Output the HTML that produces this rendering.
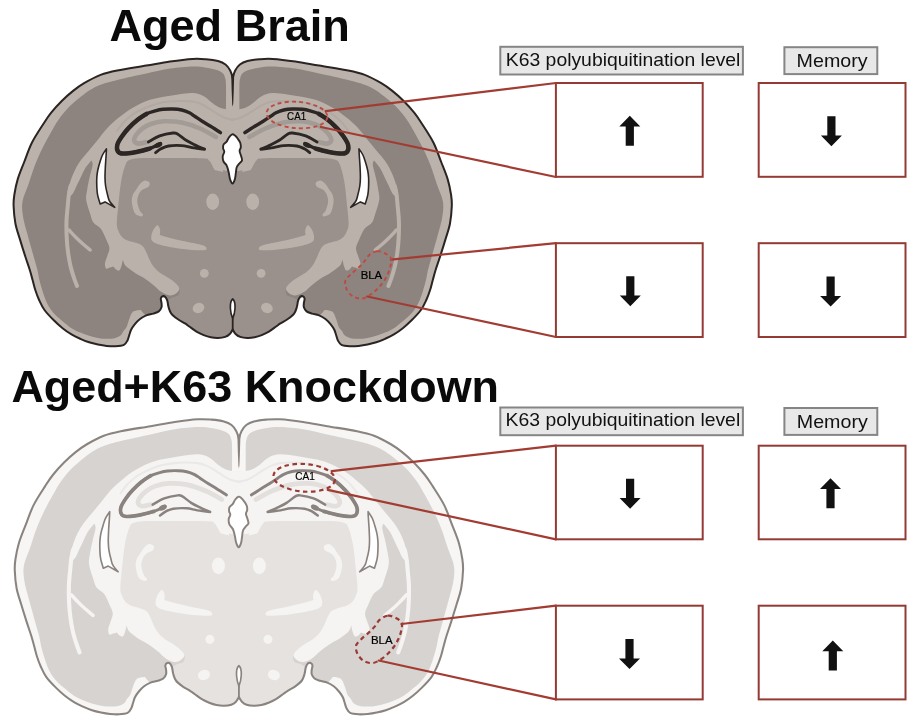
<!DOCTYPE html>
<html><head><meta charset="utf-8"><title>Aged Brain K63</title>
<style>
html,body{margin:0;padding:0;background:#fff;}
body{width:907px;height:727px;overflow:hidden;position:relative;font-family:"Liberation Sans",sans-serif;}
svg{position:absolute;left:0;top:0;}
.b1{--rim:#bbb3ab;--ctx:#8d847f;--wm:#bab2aa;--core:#9a908c;--hm:#a39b96;--al:#b1a9a2;--ln:#2c2624;--ol:#2a2422;--caw:3.4px;--caw2:4.5px;--dgw:2.9px;}
.b2{--rim:#f7f6f5;--ctx:#d7d3d0;--wm:#f5f4f2;--core:#e5e2df;--hm:#e2dfdc;--al:#ebe9e7;--ln:#8a827e;--ol:#8a8480;--caw:2.8px;--caw2:3.6px;--dgw:2.4px;}
</style></head>
<body>
<svg width="907" height="727" viewBox="0 0 907 727">
<defs>
<g id="half">
  <path fill="none" stroke="var(--al)" stroke-width="2" stroke-linecap="round" d="M117,131 C118.17,129.5 121.17,124.92 124,122 C126.83,119.08 130.28,115.92 134,113.5 C137.72,111.08 142.3,109.17 146.3,107.5 C150.3,105.83 154.13,104.48 158,103.5 C161.87,102.52 165.67,102.02 169.5,101.6 C173.33,101.18 177.15,101 181,101 C184.85,101 189.27,101.1 192.6,101.6 C195.93,102.1 198.43,102.97 201,104 C203.57,105.03 205.5,106.3 208,107.8 C210.5,109.3 213.33,111.38 216,113 C218.67,114.62 221,116.33 224,117.5 C227,118.67 232.33,119.58 234,120"/>
  <path fill="none" stroke="var(--wm)" stroke-width="4" stroke-linecap="round" d="M70.5,186 C70.22,187.5 69.25,191.77 68.8,195 C68.35,198.23 68.18,201.07 67.8,205.4 C67.42,209.73 66.68,215.67 66.5,221 C66.32,226.33 66.45,232.23 66.7,237.4 C66.95,242.57 67.37,247.23 68,252 C68.63,256.77 69.5,261.67 70.5,266 C71.5,270.33 72.92,274.67 74,278 C75.08,281.33 76.5,284.67 77,286"/>
  <path fill="none" stroke="var(--wm)" stroke-width="3.4" stroke-linecap="round" d="M69,230 C70.17,231.25 73.67,235.17 76,237.5 C78.33,239.83 80.63,241.92 83,244 C85.37,246.08 89,249 90.2,250"/>
  <path fill="none" stroke="var(--hm)" stroke-width="4.6" stroke-linecap="round" stroke-linejoin="round" d="M216,137 C213.33,135.58 205.72,130.9 200,128.5 C194.28,126.1 187.68,123.8 181.7,122.6 C175.72,121.4 169.23,121.07 164.1,121.3 C158.97,121.53 154.58,122.75 150.9,124 C147.22,125.25 144.52,126.9 142,128.8 C139.48,130.7 137.1,133.4 135.8,135.4 C134.5,137.4 133.75,139.43 134.2,140.8 C134.65,142.17 136.45,143.4 138.5,143.6 C140.55,143.8 145.17,142.27 146.5,142"/>
  <path fill="none" stroke="var(--ln)" stroke-width="var(--caw)" stroke-linecap="round" stroke-linejoin="round" d="M220.5,132.6 C218.92,131.58 213.98,128.35 211,126.5 C208.02,124.65 205.27,123.17 202.6,121.5 C199.93,119.83 197.2,117.95 195,116.5 C192.8,115.05 191.62,113.88 189.4,112.8 C187.18,111.72 184.45,110.63 181.7,110 C178.95,109.37 176.02,109.12 172.9,109 C169.78,108.88 165.93,109 163,109.3 C160.07,109.6 158.05,110.05 155.3,110.8 C152.55,111.55 149.45,112.3 146.5,113.8 C143.55,115.3 140.55,117.45 137.6,119.8 C134.65,122.15 131.3,125.28 128.8,127.9 C126.3,130.52 124.5,132.73 122.6,135.5 C120.7,138.27 118.17,141.83 117.4,144.5 C116.63,147.17 117.07,149.98 118,151.5 C118.93,153.02 119.92,153.52 123,153.6 C126.08,153.68 132.05,152.83 136.5,152 C140.95,151.17 145.7,150.02 149.7,148.6 C153.7,147.18 158.7,144.35 160.5,143.5"/>
  <path fill="none" stroke="var(--ln)" stroke-width="var(--caw2)" stroke-linecap="round" stroke-linejoin="round" d="M146.5,113.8 C145.02,114.8 140.55,117.45 137.6,119.8 C134.65,122.15 131.3,125.28 128.8,127.9 C126.3,130.52 124.5,132.73 122.6,135.5 C120.7,138.27 118.17,141.83 117.4,144.5 C116.63,147.17 117.07,149.98 118,151.5 C118.93,153.02 119.92,153.52 123,153.6 C126.08,153.68 132.05,152.83 136.5,152 C140.95,151.17 147.5,149.17 149.7,148.6"/>
  <ellipse fill="var(--ln)" cx="158.3" cy="145" rx="4.2" ry="2.5" transform="rotate(-25 158.3 145)"/>
  <path fill="none" stroke="var(--ln)" stroke-width="var(--dgw)" stroke-linecap="round" stroke-linejoin="round" d="M148.4,142 C150.28,140.98 155.62,137.4 159.7,135.9 C163.78,134.4 169.93,133.32 172.9,133 C175.87,132.68 175.3,132.78 177.5,134 C179.7,135.22 183.35,138.55 186.1,140.3 C188.85,142.05 190.92,143.02 194,144.5 C197.08,145.98 204.6,149.2 204.6,149.2 C204.6,149.2 195.82,148.2 192,147.6 C188.18,147 185.62,145.87 181.7,145.6 C177.78,145.33 171.95,145.47 168.5,146 C165.05,146.53 163.15,147.7 161,148.8 C158.85,149.9 156.5,151.97 155.6,152.6"/>
  <path fill="#fff" stroke="var(--ln)" stroke-width="1.6" stroke-linejoin="round" d="M106.4,148.9 C106.4,148.9 103.53,152.93 102.5,155 C101.47,157.07 100.98,158.8 100.2,161.3 C99.42,163.8 98.37,167.25 97.8,170 C97.23,172.75 96.97,175.13 96.8,177.8 C96.63,180.47 96.68,183.25 96.8,186 C96.92,188.75 96.93,191.3 97.5,194.3 C98.07,197.3 100.2,204 100.2,204 C100.2,204 105,201.9 105,201.9 C105,201.9 114.7,207.4 114.7,207.4 C114.7,207.4 110.68,203.07 109.5,201 C108.32,198.93 108.25,197.5 107.6,195 C106.95,192.5 106.03,188.87 105.6,186 C105.17,183.13 105.05,180.8 105,177.8 C104.95,174.8 105.18,170.75 105.3,168 C105.42,165.25 105.55,163.63 105.7,161.3 C105.85,158.97 106.08,156.07 106.2,154 C106.32,151.93 106.4,148.9 106.4,148.9 Z"/>
  <path fill="var(--wm)" d="M144.8,180.5 C146.38,180.25 148.88,181.47 149.5,182.5 C150.12,183.53 149.7,185.48 148.5,186.7 C147.3,187.92 143.95,188.47 142.3,189.8 C140.65,191.13 139.43,192.65 138.6,194.7 C137.77,196.75 137.1,199.42 137.3,202.1 C137.5,204.78 138.87,208.73 139.8,210.8 C140.73,212.87 142.7,213.57 142.9,214.5 C143.1,215.43 142.33,216.6 141,216.4 C139.67,216.2 136.43,215.68 134.9,213.3 C133.37,210.92 132.12,205.23 131.8,202.1 C131.48,198.97 132.28,196.55 133,194.5 C133.72,192.45 134.93,191.55 136.1,189.8 C137.27,188.05 138.55,185.55 140,184 C141.45,182.45 143.22,180.75 144.8,180.5 Z"/>
  <path fill="var(--wm)" d="M157.3,225 C159.8,226.5 160.8,230.5 159.8,235 C170,238.5 185,241.5 200,244.5 C205,245.5 208,247.5 206,250 C195,251 180,249 165,246 C158,244.5 153,243 151.5,240 C150.5,235.5 152.8,228.5 157.3,225 Z"/>
  <ellipse fill="var(--wm)" cx="212.7" cy="201.7" rx="6.4" ry="8.2"/>
  <circle fill="var(--wm)" cx="204.3" cy="273.3" r="4.4"/>
  <ellipse fill="var(--wm)" cx="198.5" cy="308" rx="6" ry="5" transform="rotate(-20 198.5 308)"/>
  <path fill="var(--wm)" d="M207,150 L223,150 L223,172 L214.5,170 Z"/>
</g>
<g id="brain">
  <path fill="var(--rim)" d="M232.7,78 C232.7,78 231.4,72.75 230.2,70.5 C229,68.25 227.53,66.08 225.5,64.5 C223.47,62.92 221.25,61.88 218,61 C214.75,60.12 210.23,59.55 206,59.2 C201.77,58.85 198.6,58.52 192.6,58.9 C186.6,59.28 177.72,60.38 170,61.5 C162.28,62.62 155.1,64.1 146.3,65.6 C137.5,67.1 124.82,68.95 117.2,70.5 C109.58,72.05 106.12,72.78 100.6,74.9 C95.08,77.02 88.68,80.53 84.1,83.2 C79.52,85.87 76.78,87.97 73.1,90.9 C69.42,93.83 65.68,97.13 62,100.8 C58.32,104.47 54.12,109.03 51,112.9 C47.88,116.77 46.47,119.07 43.3,124 C40.13,128.93 35.18,136.17 32,142.5 C28.82,148.83 26.6,155.82 24.2,162 C21.8,168.18 19.25,174.1 17.6,179.6 C15.95,185.1 14.97,190.6 14.3,195 C13.63,199.4 13.42,201.25 13.6,206 C13.78,210.75 14.37,218.02 15.4,223.5 C16.43,228.98 18.15,233.4 19.8,238.9 C21.45,244.4 23.63,251.32 25.3,256.5 C26.97,261.68 28.58,266.08 29.8,270 C31.02,273.92 31.68,276.67 32.6,280 C33.52,283.33 34.22,286.67 35.3,290 C36.38,293.33 37.57,296.67 39.1,300 C40.63,303.33 42.05,306.62 44.5,310 C46.95,313.38 50.78,317.27 53.8,320.3 C56.82,323.33 59.65,325.85 62.6,328.2 C65.55,330.55 68.55,332.63 71.5,334.4 C74.45,336.17 77.37,337.48 80.3,338.8 C83.23,340.12 86.17,341.35 89.1,342.3 C92.03,343.25 94.97,343.9 97.9,344.5 C100.83,345.1 103.77,345.6 106.7,345.9 C109.63,346.2 112.63,346.47 115.5,346.3 C118.37,346.13 121.9,345.88 123.9,344.9 C125.9,343.92 126.6,342.05 127.5,340.4 C128.4,338.75 128.7,336.78 129.3,335 C129.9,333.22 130.2,331.48 131.1,329.7 C132,327.92 133.22,326.08 134.7,324.3 C136.18,322.52 138.07,320.48 140,319 C141.93,317.52 144.07,316.3 146.3,315.4 C148.53,314.5 151.32,314.27 153.4,313.6 C155.48,312.93 157.45,312.45 158.8,311.4 C160.15,310.35 161.05,308.72 161.5,307.3 C161.95,305.88 161.62,304.35 161.5,302.9 C161.38,301.45 160.62,299.7 160.8,298.6 C160.98,297.5 161.85,296.58 162.6,296.3 C163.35,296.02 164.52,296.18 165.3,296.9 C166.08,297.62 166.75,298.87 167.3,300.6 C167.85,302.33 167.93,305.13 168.6,307.3 C169.27,309.47 169.8,311.65 171.3,313.6 C172.8,315.55 175.32,317.37 177.6,319 C179.88,320.63 183.05,322.15 185,323.4 C186.95,324.65 187.38,325.13 189.3,326.5 C191.22,327.87 194.1,330.17 196.5,331.6 C198.9,333.03 201.32,334.15 203.7,335.1 C206.08,336.05 208.42,336.82 210.8,337.3 C213.18,337.78 215.6,338.07 218,338 C220.4,337.93 223.23,337.57 225.2,336.9 C227.17,336.23 228.55,335.23 229.8,334 C231.05,332.77 232.7,329.5 232.7,329.5 C232.7,329.5 234.35,332.77 235.6,334 C236.85,335.23 238.23,336.23 240.2,336.9 C242.17,337.57 245,337.93 247.4,338 C249.8,338.07 252.22,337.78 254.6,337.3 C256.98,336.82 259.32,336.05 261.7,335.1 C264.08,334.15 266.5,333.03 268.9,331.6 C271.3,330.17 274.18,327.87 276.1,326.5 C278.02,325.13 278.45,324.65 280.4,323.4 C282.35,322.15 285.52,320.63 287.8,319 C290.08,317.37 292.6,315.55 294.1,313.6 C295.6,311.65 296.13,309.47 296.8,307.3 C297.47,305.13 297.55,302.33 298.1,300.6 C298.65,298.87 299.32,297.62 300.1,296.9 C300.88,296.18 302.05,296.02 302.8,296.3 C303.55,296.58 304.42,297.5 304.6,298.6 C304.78,299.7 304.02,301.45 303.9,302.9 C303.78,304.35 303.45,305.88 303.9,307.3 C304.35,308.72 305.25,310.35 306.6,311.4 C307.95,312.45 309.92,312.93 312,313.6 C314.08,314.27 316.87,314.5 319.1,315.4 C321.33,316.3 323.47,317.52 325.4,319 C327.33,320.48 329.22,322.52 330.7,324.3 C332.18,326.08 333.4,327.92 334.3,329.7 C335.2,331.48 335.5,333.22 336.1,335 C336.7,336.78 337,338.75 337.9,340.4 C338.8,342.05 339.5,343.92 341.5,344.9 C343.5,345.88 347.03,346.13 349.9,346.3 C352.77,346.47 355.77,346.2 358.7,345.9 C361.63,345.6 364.57,345.1 367.5,344.5 C370.43,343.9 373.37,343.25 376.3,342.3 C379.23,341.35 382.17,340.12 385.1,338.8 C388.03,337.48 390.95,336.17 393.9,334.4 C396.85,332.63 399.85,330.55 402.8,328.2 C405.75,325.85 408.58,323.33 411.6,320.3 C414.62,317.27 418.45,313.38 420.9,310 C423.35,306.62 424.77,303.33 426.3,300 C427.83,296.67 429.02,293.33 430.1,290 C431.18,286.67 431.88,283.33 432.8,280 C433.72,276.67 434.38,273.92 435.6,270 C436.82,266.08 438.43,261.68 440.1,256.5 C441.77,251.32 443.95,244.4 445.6,238.9 C447.25,233.4 448.97,228.98 450,223.5 C451.03,218.02 451.62,210.75 451.8,206 C451.98,201.25 451.77,199.4 451.1,195 C450.43,190.6 449.45,185.1 447.8,179.6 C446.15,174.1 443.6,168.18 441.2,162 C438.8,155.82 436.58,148.83 433.4,142.5 C430.22,136.17 425.27,128.93 422.1,124 C418.93,119.07 417.52,116.77 414.4,112.9 C411.28,109.03 407.08,104.47 403.4,100.8 C399.72,97.13 395.98,93.83 392.3,90.9 C388.62,87.97 385.88,85.87 381.3,83.2 C376.72,80.53 370.32,77.02 364.8,74.9 C359.28,72.78 355.82,72.05 348.2,70.5 C340.58,68.95 327.9,67.1 319.1,65.6 C310.3,64.1 303.12,62.62 295.4,61.5 C287.68,60.38 278.8,59.28 272.8,58.9 C266.8,58.52 263.63,58.85 259.4,59.2 C255.17,59.55 250.65,60.12 247.4,61 C244.15,61.88 241.93,62.92 239.9,64.5 C237.87,66.08 236.4,68.25 235.2,70.5 C234,72.75 232.7,78 232.7,78 Z"/>
  <path fill="var(--ctx)" d="M232.7,110 C232.7,110 226,110 226,110 C226,110 226.12,91.25 226,86 C225.88,80.75 225.83,80.62 225.3,78.5 C224.77,76.38 224.1,74.68 222.8,73.3 C221.5,71.92 220.47,71.18 217.5,70.2 C214.53,69.22 209.15,68.02 205,67.4 C200.85,66.78 198.43,66.3 192.6,66.5 C186.77,66.7 177.72,67.42 170,68.6 C162.28,69.78 155.1,71.7 146.3,73.6 C137.5,75.5 124.82,78.13 117.2,80 C109.58,81.87 105.2,83.08 100.6,84.8 C96,86.52 93.27,88 89.6,90.3 C85.93,92.6 82.27,95.57 78.6,98.6 C74.93,101.63 70.92,105.02 67.6,108.5 C64.28,111.98 61.1,116.18 58.7,119.5 C56.3,122.82 55.82,123.82 53.2,128.4 C50.58,132.98 46.03,140.9 43,147 C39.97,153.1 37.4,158.83 35,165 C32.6,171.17 30.68,177.92 28.6,184 C26.52,190.08 23.42,196.02 22.5,201.5 C21.58,206.98 22.27,211.4 23.1,216.9 C23.93,222.4 25.85,228.27 27.5,234.5 C29.15,240.73 31.35,248.38 33,254.3 C34.65,260.22 36.33,265.72 37.4,270 C38.47,274.28 38.6,276.67 39.4,280 C40.2,283.33 41.17,286.67 42.2,290 C43.23,293.33 44.23,296.83 45.6,300 C46.97,303.17 48.67,306.42 50.4,309 C52.13,311.58 53.97,313.47 56,315.5 C58.03,317.53 60.02,319.08 62.6,321.2 C65.18,323.32 68.55,326.3 71.5,328.2 C74.45,330.1 77.37,331.35 80.3,332.6 C83.23,333.85 86.17,334.82 89.1,335.7 C92.03,336.58 94.97,337.38 97.9,337.9 C100.83,338.42 103.77,338.8 106.7,338.8 C109.63,338.8 113.15,338.48 115.5,337.9 C117.85,337.32 119.47,336.45 120.8,335.3 C122.13,334.15 122.53,332.38 123.5,331 C124.47,329.62 125.63,329 126.6,327 C127.57,325 128.25,321.53 129.3,319 C130.35,316.47 130.97,313.3 132.9,311.8 C134.83,310.3 140.9,310 140.9,310 C140.9,310 144.22,314.8 146.3,315.4 C148.38,316 151.32,314.27 153.4,313.6 C155.48,312.93 157.45,312.45 158.8,311.4 C160.15,310.35 161.05,308.72 161.5,307.3 C161.95,305.88 161.62,304.35 161.5,302.9 C161.38,301.45 160.62,299.7 160.8,298.6 C160.98,297.5 161.85,296.58 162.6,296.3 C163.35,296.02 164.52,296.18 165.3,296.9 C166.08,297.62 166.75,298.87 167.3,300.6 C167.85,302.33 167.93,305.13 168.6,307.3 C169.27,309.47 169.8,311.65 171.3,313.6 C172.8,315.55 175.32,317.37 177.6,319 C179.88,320.63 183.05,322.15 185,323.4 C186.95,324.65 187.38,325.13 189.3,326.5 C191.22,327.87 194.1,330.17 196.5,331.6 C198.9,333.03 201.32,334.15 203.7,335.1 C206.08,336.05 208.42,336.82 210.8,337.3 C213.18,337.78 215.6,338.07 218,338 C220.4,337.93 223.23,337.57 225.2,336.9 C227.17,336.23 228.55,335.23 229.8,334 C231.05,332.77 232.7,329.5 232.7,329.5 C232.7,329.5 234.35,332.77 235.6,334 C236.85,335.23 238.23,336.23 240.2,336.9 C242.17,337.57 245,337.93 247.4,338 C249.8,338.07 252.22,337.78 254.6,337.3 C256.98,336.82 259.32,336.05 261.7,335.1 C264.08,334.15 266.5,333.03 268.9,331.6 C271.3,330.17 274.18,327.87 276.1,326.5 C278.02,325.13 278.45,324.65 280.4,323.4 C282.35,322.15 285.52,320.63 287.8,319 C290.08,317.37 292.6,315.55 294.1,313.6 C295.6,311.65 296.13,309.47 296.8,307.3 C297.47,305.13 297.55,302.33 298.1,300.6 C298.65,298.87 299.32,297.62 300.1,296.9 C300.88,296.18 302.05,296.02 302.8,296.3 C303.55,296.58 304.42,297.5 304.6,298.6 C304.78,299.7 304.02,301.45 303.9,302.9 C303.78,304.35 303.45,305.88 303.9,307.3 C304.35,308.72 305.25,310.35 306.6,311.4 C307.95,312.45 309.92,312.93 312,313.6 C314.08,314.27 317.02,316 319.1,315.4 C321.18,314.8 324.5,310 324.5,310 C324.5,310 330.57,310.3 332.5,311.8 C334.43,313.3 335.05,316.47 336.1,319 C337.15,321.53 337.83,325 338.8,327 C339.77,329 340.93,329.62 341.9,331 C342.87,332.38 343.27,334.15 344.6,335.3 C345.93,336.45 347.55,337.32 349.9,337.9 C352.25,338.48 355.77,338.8 358.7,338.8 C361.63,338.8 364.57,338.42 367.5,337.9 C370.43,337.38 373.37,336.58 376.3,335.7 C379.23,334.82 382.17,333.85 385.1,332.6 C388.03,331.35 390.95,330.1 393.9,328.2 C396.85,326.3 400.22,323.32 402.8,321.2 C405.38,319.08 407.37,317.53 409.4,315.5 C411.43,313.47 413.27,311.58 415,309 C416.73,306.42 418.43,303.17 419.8,300 C421.17,296.83 422.17,293.33 423.2,290 C424.23,286.67 425.2,283.33 426,280 C426.8,276.67 426.93,274.28 428,270 C429.07,265.72 430.75,260.22 432.4,254.3 C434.05,248.38 436.25,240.73 437.9,234.5 C439.55,228.27 441.47,222.4 442.3,216.9 C443.13,211.4 443.82,206.98 442.9,201.5 C441.98,196.02 438.88,190.08 436.8,184 C434.72,177.92 432.8,171.17 430.4,165 C428,158.83 425.43,153.1 422.4,147 C419.37,140.9 414.82,132.98 412.2,128.4 C409.58,123.82 409.1,122.82 406.7,119.5 C404.3,116.18 401.12,111.98 397.8,108.5 C394.48,105.02 390.47,101.63 386.8,98.6 C383.13,95.57 379.47,92.6 375.8,90.3 C372.13,88 369.4,86.52 364.8,84.8 C360.2,83.08 355.82,81.87 348.2,80 C340.58,78.13 327.9,75.5 319.1,73.6 C310.3,71.7 303.12,69.78 295.4,68.6 C287.68,67.42 278.63,66.7 272.8,66.5 C266.97,66.3 264.55,66.78 260.4,67.4 C256.25,68.02 250.87,69.22 247.9,70.2 C244.93,71.18 243.9,71.92 242.6,73.3 C241.3,74.68 240.63,76.38 240.1,78.5 C239.57,80.62 239.52,80.75 239.4,86 C239.28,91.25 239.4,110 239.4,110 C239.4,110 232.7,110 232.7,110 Z"/>
  <path fill="var(--wm)" d="M232.7,109.5 C232.7,109.5 227.38,109.42 225,109 C222.62,108.58 220.62,108.07 218.4,107 C216.18,105.93 213.92,104.27 211.7,102.6 C209.48,100.93 207.48,98.48 205.1,97 C202.72,95.52 200.15,94.33 197.4,93.7 C194.65,93.07 192.83,92.92 188.6,93.2 C184.37,93.48 178.43,94.3 172,95.4 C165.57,96.5 156.6,97.72 150,99.8 C143.4,101.88 137.58,104.95 132.4,107.9 C127.22,110.85 122.92,114.3 118.9,117.5 C114.88,120.7 111.67,123.57 108.3,127.1 C104.93,130.63 102.05,134.63 98.7,138.7 C95.35,142.77 91.22,147.85 88.2,151.5 C85.18,155.15 82.72,157.68 80.6,160.6 C78.48,163.52 77.02,166.1 75.5,169 C73.98,171.9 72.67,174.83 71.5,178 C70.33,181.17 69.25,184.83 68.5,188 C67.75,191.17 67,197 67,197 C67,197 69.42,196.75 70.5,196 C71.58,195.25 72.5,194.17 73.5,192.5 C74.5,190.83 75.5,188.08 76.5,186 C77.5,183.92 78.12,182.85 79.5,180 C80.88,177.15 82.82,172.13 84.8,168.9 C86.78,165.67 91.4,160.6 91.4,160.6 C91.4,160.6 92.88,162.25 92.6,165 C92.32,167.75 90.6,173.02 89.7,177.1 C88.8,181.18 87.78,185.68 87.2,189.5 C86.62,193.32 85.7,195.93 86.2,200 C86.7,204.07 89,210.17 90.2,213.9 C91.4,217.63 91.62,219.92 93.4,222.4 C95.18,224.88 98.77,225.95 100.9,228.8 C103.03,231.65 104.78,236.3 106.2,239.5 C107.62,242.7 109.22,245.25 109.4,248 C109.58,250.75 108.03,253.5 107.3,256 C106.57,258.5 105.22,260.92 105,263 C104.78,265.08 105.17,267.75 106,268.5 C106.83,269.25 108.75,267.83 110,267.5 C111.25,267.17 113.5,266.5 113.5,266.5 C113.5,266.5 115.03,268.95 116,269.6 C116.97,270.25 118.4,270.95 119.3,270.4 C120.2,269.85 120.8,268.1 121.4,266.3 C122,264.5 122.9,259.6 122.9,259.6 C122.9,259.6 123.65,262.95 124.6,264.4 C125.55,265.85 126.73,266.78 128.6,268.3 C130.47,269.82 133.05,271.77 135.8,273.5 C138.55,275.23 142.18,276.8 145.1,278.7 C148.02,280.6 150.55,282.67 153.3,284.9 C156.05,287.13 158.83,290.35 161.6,292.1 C164.37,293.85 167.5,295.17 169.9,295.4 C172.3,295.63 174.4,294.65 176,293.5 C177.6,292.35 179.33,290.42 179.5,288.5 C179.67,286.58 177,282 177,282 C177,282 232.7,250 232.7,250 C232.7,250 288.4,282 288.4,282 C288.4,282 285.73,286.58 285.9,288.5 C286.07,290.42 287.8,292.35 289.4,293.5 C291,294.65 293.1,295.63 295.5,295.4 C297.9,295.17 301.03,293.85 303.8,292.1 C306.57,290.35 309.35,287.13 312.1,284.9 C314.85,282.67 317.38,280.6 320.3,278.7 C323.22,276.8 326.85,275.23 329.6,273.5 C332.35,271.77 334.93,269.82 336.8,268.3 C338.67,266.78 339.85,265.85 340.8,264.4 C341.75,262.95 342.5,259.6 342.5,259.6 C342.5,259.6 343.4,264.5 344,266.3 C344.6,268.1 345.2,269.85 346.1,270.4 C347,270.95 348.43,270.25 349.4,269.6 C350.37,268.95 351.9,266.5 351.9,266.5 C351.9,266.5 354.15,267.17 355.4,267.5 C356.65,267.83 358.57,269.25 359.4,268.5 C360.23,267.75 360.62,265.08 360.4,263 C360.18,260.92 358.83,258.5 358.1,256 C357.37,253.5 355.82,250.75 356,248 C356.18,245.25 357.78,242.7 359.2,239.5 C360.62,236.3 362.37,231.65 364.5,228.8 C366.63,225.95 370.22,224.88 372,222.4 C373.78,219.92 374,217.63 375.2,213.9 C376.4,210.17 378.7,204.07 379.2,200 C379.7,195.93 378.78,193.32 378.2,189.5 C377.62,185.68 376.6,181.18 375.7,177.1 C374.8,173.02 373.08,167.75 372.8,165 C372.52,162.25 374,160.6 374,160.6 C374,160.6 378.62,165.67 380.6,168.9 C382.58,172.13 384.52,177.15 385.9,180 C387.28,182.85 387.9,183.92 388.9,186 C389.9,188.08 390.9,190.83 391.9,192.5 C392.9,194.17 393.82,195.25 394.9,196 C395.98,196.75 398.4,197 398.4,197 C398.4,197 397.65,191.17 396.9,188 C396.15,184.83 395.07,181.17 393.9,178 C392.73,174.83 391.42,171.9 389.9,169 C388.38,166.1 386.92,163.52 384.8,160.6 C382.68,157.68 380.22,155.15 377.2,151.5 C374.18,147.85 370.05,142.77 366.7,138.7 C363.35,134.63 360.47,130.63 357.1,127.1 C353.73,123.57 350.52,120.7 346.5,117.5 C342.48,114.3 338.18,110.85 333,107.9 C327.82,104.95 322,101.88 315.4,99.8 C308.8,97.72 299.83,96.5 293.4,95.4 C286.97,94.3 281.03,93.48 276.8,93.2 C272.57,92.92 270.75,93.07 268,93.7 C265.25,94.33 262.68,95.52 260.3,97 C257.92,98.48 255.92,100.93 253.7,102.6 C251.48,104.27 249.22,105.93 247,107 C244.78,108.07 242.78,108.58 240.4,109 C238.02,109.42 232.7,109.5 232.7,109.5 Z"/>
  <path fill="var(--core)" d="M232.7,172 C232.7,172 222,170 222,170 C222,170 213.5,168 213.5,168 C213.5,168 210.92,162.13 209,160.5 C207.08,158.87 210.17,158.62 202,158.2 C193.83,157.78 170.33,158 160,158 C149.67,158 144.83,157.95 140,158.2 C135.17,158.45 133.33,158.62 131,159.5 C128.67,160.38 127.63,159.92 126,163.5 C124.37,167.08 122.52,173.63 121.2,181 C119.88,188.37 118.83,200.53 118.1,207.7 C117.37,214.87 116.73,220.12 116.8,224 C116.87,227.88 117.63,228.83 118.5,231 C119.37,233.17 120.5,235.42 122,237 C123.5,238.58 125.03,239.48 127.5,240.5 C129.97,241.52 134.3,242.18 136.8,243.1 C139.3,244.02 140.95,244.55 142.5,246 C144.05,247.45 144.98,249.62 146.1,251.8 C147.22,253.98 148,256.68 149.2,259.1 C150.4,261.52 151.58,264.07 153.3,266.3 C155.02,268.53 157.08,270.62 159.5,272.5 C161.92,274.38 165.22,275.88 167.8,277.6 C170.38,279.32 173.05,280.98 175,282.8 C176.95,284.62 178.92,286.47 179.5,288.5 C180.08,290.53 179.75,293.5 178.5,295 C177.25,296.5 173.87,296.57 172,297.5 C170.13,298.43 167.3,300.6 167.3,300.6 C167.3,300.6 167.93,305.13 168.6,307.3 C169.27,309.47 169.8,311.65 171.3,313.6 C172.8,315.55 175.32,317.37 177.6,319 C179.88,320.63 183.05,322.15 185,323.4 C186.95,324.65 187.38,325.13 189.3,326.5 C191.22,327.87 194.1,330.17 196.5,331.6 C198.9,333.03 201.32,334.15 203.7,335.1 C206.08,336.05 208.42,336.82 210.8,337.3 C213.18,337.78 215.6,338.07 218,338 C220.4,337.93 223.23,337.57 225.2,336.9 C227.17,336.23 228.55,335.23 229.8,334 C231.05,332.77 232.7,329.5 232.7,329.5 C232.7,329.5 234.35,332.77 235.6,334 C236.85,335.23 238.23,336.23 240.2,336.9 C242.17,337.57 245,337.93 247.4,338 C249.8,338.07 252.22,337.78 254.6,337.3 C256.98,336.82 259.32,336.05 261.7,335.1 C264.08,334.15 266.5,333.03 268.9,331.6 C271.3,330.17 274.18,327.87 276.1,326.5 C278.02,325.13 278.45,324.65 280.4,323.4 C282.35,322.15 285.52,320.63 287.8,319 C290.08,317.37 292.6,315.55 294.1,313.6 C295.6,311.65 296.13,309.47 296.8,307.3 C297.47,305.13 298.1,300.6 298.1,300.6 C298.1,300.6 295.27,298.43 293.4,297.5 C291.53,296.57 288.15,296.5 286.9,295 C285.65,293.5 285.32,290.53 285.9,288.5 C286.48,286.47 288.45,284.62 290.4,282.8 C292.35,280.98 295.02,279.32 297.6,277.6 C300.18,275.88 303.48,274.38 305.9,272.5 C308.32,270.62 310.38,268.53 312.1,266.3 C313.82,264.07 315,261.52 316.2,259.1 C317.4,256.68 318.18,253.98 319.3,251.8 C320.42,249.62 321.35,247.45 322.9,246 C324.45,244.55 326.1,244.02 328.6,243.1 C331.1,242.18 335.43,241.52 337.9,240.5 C340.37,239.48 341.9,238.58 343.4,237 C344.9,235.42 346.03,233.17 346.9,231 C347.77,228.83 348.53,227.88 348.6,224 C348.67,220.12 348.03,214.87 347.3,207.7 C346.57,200.53 345.52,188.37 344.2,181 C342.88,173.63 341.03,167.08 339.4,163.5 C337.77,159.92 336.73,160.38 334.4,159.5 C332.07,158.62 330.23,158.45 325.4,158.2 C320.57,157.95 315.73,158 305.4,158 C295.07,158 271.57,157.78 263.4,158.2 C255.23,158.62 258.32,158.87 256.4,160.5 C254.48,162.13 251.9,168 251.9,168 C251.9,168 243.4,170 243.4,170 C243.4,170 232.7,172 232.7,172 Z"/>
  <use href="#half"/>
  <use href="#half" transform="translate(465.4,0) scale(-1,1)"/>
  <path fill="#fff" stroke="var(--ln)" stroke-width="1.9" stroke-linejoin="round" d="M232.2,134.3 C231.2,134.58 229.93,136.08 229,137.3 C228.07,138.52 227.5,140.42 226.6,141.6 C225.7,142.78 224.18,143.28 223.6,144.4 C223.02,145.52 222.98,147.07 223.1,148.3 C223.22,149.53 224.37,150.47 224.3,151.8 C224.23,153.13 222.83,154.68 222.7,156.3 C222.57,157.92 222.82,159.92 223.5,161.5 C224.18,163.08 225.93,163.98 226.8,165.8 C227.67,167.62 228.18,170.25 228.7,172.4 C229.22,174.55 229.43,177 229.9,178.7 C230.37,180.4 231.07,181.78 231.5,182.6 C231.93,183.42 232.5,183.6 232.5,183.6 C232.5,183.6 233.08,183.42 233.5,182.6 C233.92,181.78 234.6,180.4 235,178.7 C235.4,177 235.6,174.35 235.9,172.4 C236.2,170.45 236.2,168.52 236.8,167 C237.4,165.48 238.63,164.38 239.5,163.3 C240.37,162.22 241.72,161.67 242,160.5 C242.28,159.33 241.6,157.88 241.2,156.3 C240.8,154.72 239.67,152.48 239.6,151 C239.53,149.52 240.68,148.73 240.8,147.4 C240.92,146.07 240.8,144.43 240.3,143 C239.8,141.57 238.68,140.03 237.8,138.8 C236.92,137.57 235.93,136.35 235,135.6 C234.07,134.85 233.2,134.02 232.2,134.3 Z"/>
  <path fill="var(--ol)" d="M231.2,74 L234.2,74 L233.7,92 L233.2,104 L232.7,106.8 L232.2,104 L231.7,92 Z"/>
  <path fill="#fff" stroke="var(--ol)" stroke-width="1.6" d="M232.7,299 C230.8,300.5 230.2,305 230.4,308.5 C230.6,312.5 231.6,316 232.7,318.8 C233.8,316 234.8,312.5 235,308.5 C235.2,305 234.6,300.5 232.7,299 Z"/>
  <path fill="none" stroke="var(--ol)" stroke-width="1.8" d="M232.7,318.5 L232.7,330"/>
  <path fill="none" stroke="var(--ol)" stroke-width="2" stroke-linejoin="round" d="M232.7,78 C232.7,78 231.4,72.75 230.2,70.5 C229,68.25 227.53,66.08 225.5,64.5 C223.47,62.92 221.25,61.88 218,61 C214.75,60.12 210.23,59.55 206,59.2 C201.77,58.85 198.6,58.52 192.6,58.9 C186.6,59.28 177.72,60.38 170,61.5 C162.28,62.62 155.1,64.1 146.3,65.6 C137.5,67.1 124.82,68.95 117.2,70.5 C109.58,72.05 106.12,72.78 100.6,74.9 C95.08,77.02 88.68,80.53 84.1,83.2 C79.52,85.87 76.78,87.97 73.1,90.9 C69.42,93.83 65.68,97.13 62,100.8 C58.32,104.47 54.12,109.03 51,112.9 C47.88,116.77 46.47,119.07 43.3,124 C40.13,128.93 35.18,136.17 32,142.5 C28.82,148.83 26.6,155.82 24.2,162 C21.8,168.18 19.25,174.1 17.6,179.6 C15.95,185.1 14.97,190.6 14.3,195 C13.63,199.4 13.42,201.25 13.6,206 C13.78,210.75 14.37,218.02 15.4,223.5 C16.43,228.98 18.15,233.4 19.8,238.9 C21.45,244.4 23.63,251.32 25.3,256.5 C26.97,261.68 28.58,266.08 29.8,270 C31.02,273.92 31.68,276.67 32.6,280 C33.52,283.33 34.22,286.67 35.3,290 C36.38,293.33 37.57,296.67 39.1,300 C40.63,303.33 42.05,306.62 44.5,310 C46.95,313.38 50.78,317.27 53.8,320.3 C56.82,323.33 59.65,325.85 62.6,328.2 C65.55,330.55 68.55,332.63 71.5,334.4 C74.45,336.17 77.37,337.48 80.3,338.8 C83.23,340.12 86.17,341.35 89.1,342.3 C92.03,343.25 94.97,343.9 97.9,344.5 C100.83,345.1 103.77,345.6 106.7,345.9 C109.63,346.2 112.63,346.47 115.5,346.3 C118.37,346.13 121.9,345.88 123.9,344.9 C125.9,343.92 126.6,342.05 127.5,340.4 C128.4,338.75 128.7,336.78 129.3,335 C129.9,333.22 130.2,331.48 131.1,329.7 C132,327.92 133.22,326.08 134.7,324.3 C136.18,322.52 138.07,320.48 140,319 C141.93,317.52 144.07,316.3 146.3,315.4 C148.53,314.5 151.32,314.27 153.4,313.6 C155.48,312.93 157.45,312.45 158.8,311.4 C160.15,310.35 161.05,308.72 161.5,307.3 C161.95,305.88 161.62,304.35 161.5,302.9 C161.38,301.45 160.62,299.7 160.8,298.6 C160.98,297.5 161.85,296.58 162.6,296.3 C163.35,296.02 164.52,296.18 165.3,296.9 C166.08,297.62 166.75,298.87 167.3,300.6 C167.85,302.33 167.93,305.13 168.6,307.3 C169.27,309.47 169.8,311.65 171.3,313.6 C172.8,315.55 175.32,317.37 177.6,319 C179.88,320.63 183.05,322.15 185,323.4 C186.95,324.65 187.38,325.13 189.3,326.5 C191.22,327.87 194.1,330.17 196.5,331.6 C198.9,333.03 201.32,334.15 203.7,335.1 C206.08,336.05 208.42,336.82 210.8,337.3 C213.18,337.78 215.6,338.07 218,338 C220.4,337.93 223.23,337.57 225.2,336.9 C227.17,336.23 228.55,335.23 229.8,334 C231.05,332.77 232.7,329.5 232.7,329.5 C232.7,329.5 234.35,332.77 235.6,334 C236.85,335.23 238.23,336.23 240.2,336.9 C242.17,337.57 245,337.93 247.4,338 C249.8,338.07 252.22,337.78 254.6,337.3 C256.98,336.82 259.32,336.05 261.7,335.1 C264.08,334.15 266.5,333.03 268.9,331.6 C271.3,330.17 274.18,327.87 276.1,326.5 C278.02,325.13 278.45,324.65 280.4,323.4 C282.35,322.15 285.52,320.63 287.8,319 C290.08,317.37 292.6,315.55 294.1,313.6 C295.6,311.65 296.13,309.47 296.8,307.3 C297.47,305.13 297.55,302.33 298.1,300.6 C298.65,298.87 299.32,297.62 300.1,296.9 C300.88,296.18 302.05,296.02 302.8,296.3 C303.55,296.58 304.42,297.5 304.6,298.6 C304.78,299.7 304.02,301.45 303.9,302.9 C303.78,304.35 303.45,305.88 303.9,307.3 C304.35,308.72 305.25,310.35 306.6,311.4 C307.95,312.45 309.92,312.93 312,313.6 C314.08,314.27 316.87,314.5 319.1,315.4 C321.33,316.3 323.47,317.52 325.4,319 C327.33,320.48 329.22,322.52 330.7,324.3 C332.18,326.08 333.4,327.92 334.3,329.7 C335.2,331.48 335.5,333.22 336.1,335 C336.7,336.78 337,338.75 337.9,340.4 C338.8,342.05 339.5,343.92 341.5,344.9 C343.5,345.88 347.03,346.13 349.9,346.3 C352.77,346.47 355.77,346.2 358.7,345.9 C361.63,345.6 364.57,345.1 367.5,344.5 C370.43,343.9 373.37,343.25 376.3,342.3 C379.23,341.35 382.17,340.12 385.1,338.8 C388.03,337.48 390.95,336.17 393.9,334.4 C396.85,332.63 399.85,330.55 402.8,328.2 C405.75,325.85 408.58,323.33 411.6,320.3 C414.62,317.27 418.45,313.38 420.9,310 C423.35,306.62 424.77,303.33 426.3,300 C427.83,296.67 429.02,293.33 430.1,290 C431.18,286.67 431.88,283.33 432.8,280 C433.72,276.67 434.38,273.92 435.6,270 C436.82,266.08 438.43,261.68 440.1,256.5 C441.77,251.32 443.95,244.4 445.6,238.9 C447.25,233.4 448.97,228.98 450,223.5 C451.03,218.02 451.62,210.75 451.8,206 C451.98,201.25 451.77,199.4 451.1,195 C450.43,190.6 449.45,185.1 447.8,179.6 C446.15,174.1 443.6,168.18 441.2,162 C438.8,155.82 436.58,148.83 433.4,142.5 C430.22,136.17 425.27,128.93 422.1,124 C418.93,119.07 417.52,116.77 414.4,112.9 C411.28,109.03 407.08,104.47 403.4,100.8 C399.72,97.13 395.98,93.83 392.3,90.9 C388.62,87.97 385.88,85.87 381.3,83.2 C376.72,80.53 370.32,77.02 364.8,74.9 C359.28,72.78 355.82,72.05 348.2,70.5 C340.58,68.95 327.9,67.1 319.1,65.6 C310.3,64.1 303.12,62.62 295.4,61.5 C287.68,60.38 278.8,59.28 272.8,58.9 C266.8,58.52 263.63,58.85 259.4,59.2 C255.17,59.55 250.65,60.12 247.4,61 C244.15,61.88 241.93,62.92 239.9,64.5 C237.87,66.08 236.4,68.25 235.2,70.5 C234,72.75 232.7,78 232.7,78 Z"/>
</g>
</defs>
<!-- ===== TOP BRAIN ===== -->
<g class="b1"><use href="#brain"/></g>
<!-- ===== BOTTOM BRAIN ===== -->
<g class="b2"><use href="#brain" transform="translate(238.9,419.3) scale(1.023,1.0265) translate(-232.7,-58.9)"/></g>

<!-- Titles -->




<!-- Labels -->
<rect x="500.3" y="46.8" width="242.6" height="27.7" fill="#e8e8e8" stroke="#858585" stroke-width="2"/>

<rect x="784.4" y="47.2" width="92.9" height="26.9" fill="#e8e8e8" stroke="#858585" stroke-width="2"/>


<rect x="500.3" y="407.5" width="242.6" height="27.7" fill="#e8e8e8" stroke="#858585" stroke-width="2"/>

<rect x="784.4" y="408" width="92.9" height="26.9" fill="#e8e8e8" stroke="#858585" stroke-width="2"/>


<!-- Red boxes -->
<g fill="#fff" stroke="#943a34" stroke-width="2">
<rect x="555.9" y="83" width="146.8" height="93.8"/>
<rect x="758.7" y="83" width="146.8" height="93.8"/>
<rect x="555.9" y="243.2" width="146.8" height="93.8"/>
<rect x="758.7" y="243.2" width="146.8" height="93.8"/>
<rect x="555.9" y="445.7" width="146.8" height="93.6"/>
<rect x="758.7" y="445.7" width="146.8" height="93.6"/>
<rect x="555.9" y="605.7" width="146.8" height="93.7"/>
<rect x="758.7" y="605.7" width="146.8" height="93.7"/>
</g>

<!-- Arrows -->
<defs>
<path id="aup" d="M0,-15 L10.5,-4.3 L4.1,-4.3 L4.1,15 L-4.1,15 L-4.1,-4.3 L-10.5,-4.3 Z"/>
<path id="adn" d="M0,15 L10.5,4.3 L4.1,4.3 L4.1,-15 L-4.1,-15 L-4.1,4.3 L-10.5,4.3 Z"/>
</defs>
<g fill="#111">
<use href="#aup" x="629.8" y="130.8"/>
<use href="#adn" x="831.4" y="131.2"/>
<use href="#adn" x="630.3" y="291.2"/>
<use href="#adn" x="830.6" y="291.6"/>
<use href="#adn" x="630.1" y="493.8"/>
<use href="#aup" x="830.5" y="493.2"/>
<use href="#adn" x="629.5" y="654.1"/>
<use href="#aup" x="832.8" y="655.6"/>
</g>

<!-- connector lines -->
<g stroke="#a23c32" stroke-width="2.2" fill="none" stroke-linecap="round">
<path d="M325.7,111.2 L556,83"/>
<path d="M320.8,127 L556,177"/>
<path d="M391,259.6 L556,243.2"/>
<path d="M367.2,296.5 L556,337"/>
</g>
<!-- ROI dashed -->
<g fill="none" stroke="#bf4a42" stroke-width="1.9" stroke-dasharray="4 3.2">
<ellipse cx="297" cy="115" rx="30.5" ry="13.2" transform="rotate(4 297 115)"/>
<path d="M377,251.2 C379.68,250.9 382.78,252.22 385.1,253.4 C387.42,254.58 390,256.22 390.9,258.3 C391.8,260.38 391.02,263.28 390.5,265.9 C389.98,268.52 389,271.32 387.8,274 C386.6,276.68 385.1,279.47 383.3,282 C381.5,284.53 379.23,287.03 377,289.2 C374.77,291.37 372.43,293.43 369.9,295 C367.37,296.57 364.63,298.37 361.8,298.6 C358.97,298.83 355.43,297.97 352.9,296.4 C350.37,294.83 347.87,291.75 346.6,289.2 C345.33,286.65 344.7,283.48 345.3,281.1 C345.9,278.72 348.18,276.98 350.2,274.9 C352.22,272.82 355.17,270.68 357.4,268.6 C359.63,266.52 361.67,264.63 363.6,262.4 C365.53,260.17 366.77,257.07 369,255.2 C371.23,253.33 374.32,251.5 377,251.2 Z"/>
</g>



<g stroke="#a23c32" stroke-width="2.2" fill="none" stroke-linecap="round">
<path d="M331.7,471.2 L556,445.7"/>
<path d="M327.8,489.9 L556,539.3"/>
<path d="M401.5,624 L556,605.7"/>
<path d="M378.7,660.5 L556,699.4"/>
</g>
<g fill="none" stroke="#9a3a35" stroke-width="2.2" stroke-dasharray="4.5 3.5">
<ellipse cx="304.2" cy="477.8" rx="30.8" ry="13.8" transform="rotate(4 304.2 477.8)"/>
<path d="M387.8,615.7 C390.48,615.4 393.58,616.72 395.9,617.9 C398.22,619.08 400.8,620.72 401.7,622.8 C402.6,624.88 401.82,627.78 401.3,630.4 C400.78,633.02 399.8,635.82 398.6,638.5 C397.4,641.18 395.9,643.97 394.1,646.5 C392.3,649.03 390.03,651.53 387.8,653.7 C385.57,655.87 383.23,657.93 380.7,659.5 C378.17,661.07 375.43,662.87 372.6,663.1 C369.77,663.33 366.23,662.47 363.7,660.9 C361.17,659.33 358.67,656.25 357.4,653.7 C356.13,651.15 355.5,647.98 356.1,645.6 C356.7,643.22 358.98,641.48 361,639.4 C363.02,637.32 365.97,635.18 368.2,633.1 C370.43,631.02 372.47,629.13 374.4,626.9 C376.33,624.67 377.57,621.57 379.8,619.7 C382.03,617.83 385.12,616 387.8,615.7 Z"/>
</g>
<g style="will-change:transform">
<text x="109.4" y="40.8" font-family="'Liberation Sans', sans-serif" font-weight="bold" font-size="45.1" fill="#0a0a0a">Aged Brain</text>
<text x="11.4" y="402.2" font-family="'Liberation Sans', sans-serif" font-weight="bold" font-size="44.9" fill="#0a0a0a">Aged+K63 Knockdown</text>
<text x="505.8" y="65.8" font-family="'Liberation Sans', sans-serif" font-size="19" fill="#111" textLength="234.6" lengthAdjust="spacingAndGlyphs">K63 polyubiquitination level</text>
<text x="796.6" y="67.3" font-family="'Liberation Sans', sans-serif" font-size="19" fill="#111" textLength="71" lengthAdjust="spacingAndGlyphs">Memory</text>
<text x="505.6" y="425.9" font-family="'Liberation Sans', sans-serif" font-size="19" fill="#111" textLength="234.6" lengthAdjust="spacingAndGlyphs">K63 polyubiquitination level</text>
<text x="796.8" y="428" font-family="'Liberation Sans', sans-serif" font-size="19" fill="#111" textLength="71" lengthAdjust="spacingAndGlyphs">Memory</text>
<text x="287.1" y="119.6" font-family="'Liberation Sans', sans-serif" font-size="10.8" fill="#000" stroke="#000" stroke-width="0.2" textLength="19" lengthAdjust="spacingAndGlyphs">CA1</text>
<text x="360.7" y="279.2" font-family="'Liberation Sans', sans-serif" font-size="10.4" fill="#000" stroke="#000" stroke-width="0.2" textLength="21.4" lengthAdjust="spacingAndGlyphs">BLA</text>
<text x="295.3" y="480" font-family="'Liberation Sans', sans-serif" font-size="10.8" fill="#000" stroke="#000" stroke-width="0.2" textLength="19.6" lengthAdjust="spacingAndGlyphs">CA1</text>
<text x="370.9" y="643.7" font-family="'Liberation Sans', sans-serif" font-size="10.4" fill="#000" stroke="#000" stroke-width="0.2" textLength="21.7" lengthAdjust="spacingAndGlyphs">BLA</text>
</g>

</svg>
</body></html>
